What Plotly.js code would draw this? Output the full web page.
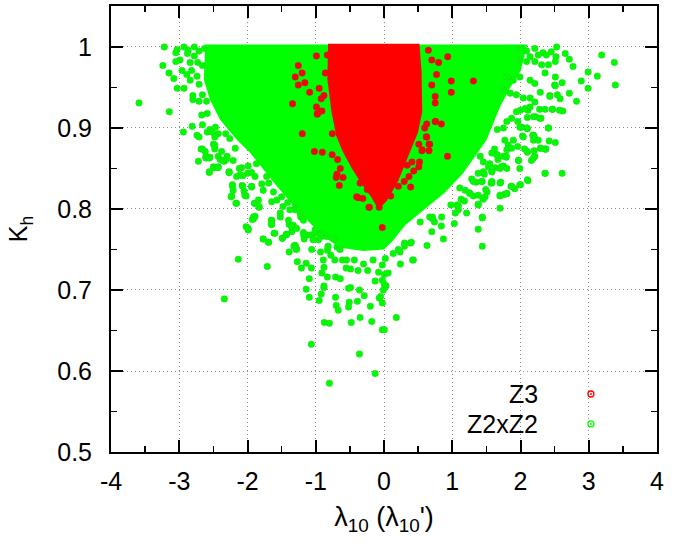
<!DOCTYPE html>
<html>
<head>
<meta charset="utf-8">
<script src="https://cdn.plot.ly/plotly-3.0.1.min.js"></script>
<style>
  html, body { margin: 0; padding: 0; background: #fff; }
  #chart { width: 673px; height: 546px; }
</style>
</head>
<body>
<div id="chart"></div>
<script>
const z22CoreX = [-2.62, 2.10, 2.0, 1.85, 1.70, 1.50, 1.16, 0.89, 0.60, 0.31, 0.12, 0.0, -0.3, -0.64, -0.89, -1.23, -1.57, -1.96, -2.15, -2.40, -2.55, -2.64, -2.62];
const z22CoreY = [1.003, 1.003, 0.97, 0.95, 0.926, 0.885, 0.844, 0.82, 0.80, 0.78, 0.76, 0.75, 0.748, 0.752, 0.766, 0.795, 0.828, 0.869, 0.885, 0.91, 0.935, 0.96, 1.003];

const z3CoreX = [-0.82, 0.52, 0.55, 0.56, 0.50, 0.40, 0.31, 0.21, 0.11, 0.04, -0.05, -0.12, -0.19, -0.32, -0.47, -0.60, -0.70, -0.77, -0.83, -0.82];
const z3CoreY = [1.004, 1.004, 0.97, 0.92, 0.895, 0.875, 0.855, 0.835, 0.82, 0.81, 0.802, 0.805, 0.815, 0.83, 0.85, 0.87, 0.89, 0.92, 0.96, 1.004];

// scattered points outside the cores
const z22X = [
  -3.59, -3.22, -3.146, -3.24, -3.15, -3.08, -3.03, -3.03, -2.93, -2.87, -2.78, -2.71, -2.63, -3.05, -2.99, -3.05,
  -2.88, -2.78, -2.73, -2.66, -2.84, -2.96, -2.89, -2.82, -2.74, -2.71, -2.93, -2.84, -2.80, -2.80, -2.71, -2.66,
  -2.60, -2.67, -2.59, -2.66, -2.94, -2.81, -2.74, -2.71, -2.68, -2.72, -2.61, -2.56, -2.62, -2.55, -2.55, -2.47,
  -2.43, -2.50, -2.48, -2.43, -2.34, -2.30, -2.50, -2.43, -2.27, -2.27, -2.16, -2.085, -1.99, -1.87, -1.89, -1.79,
  -1.72, -1.62, -1.50, -1.41, -1.30, -1.22, -2.22, -2.23, -2.16, -2.08, -2.05, -2.02, -1.94, -1.90, -1.83, -1.91,
  -2.02, -1.99, -1.89, -1.93, -1.77, -1.69, -1.65, -1.65, -1.61, -1.52, -1.49, -1.43, -1.39, -1.35, -1.33, -1.35,
  -1.30, -1.39, -1.31, -1.285, -1.27, -1.21, -1.14, -1.065, -1.095, -1.14, -1.095, -1.065, -1.18, -1.13, -1.17, -1.06,
  -1.05, -0.98, -0.82, -0.69, -2.34, -2.135, -1.71, -0.95, -0.92, -0.875, -0.80, -0.80, -0.71, -0.70, -0.67, -0.71,
  -0.64, -0.83, -0.88, -0.88, -0.91, -0.88, -0.52, -0.51, -0.48, -0.49, -0.39, -0.36, -0.36, -0.29, -0.35, -0.20,
  -0.18, -0.13, -0.07, -0.05, -0.025, -0.025, 0.005, -0.01, 0.03, 0.005, -0.025, -0.13, 0.005, 0.06, 0.18, 0.24,
  0.42, 0.43, -0.38, -0.52, -0.49, -0.555, -0.24, -0.08, -0.435, -0.30, -0.16, -0.025, 0.02, 0.135, 0.30, 0.39,
  0.235, 0.21, -0.61, -0.55, -0.645, -0.72, -0.78, -0.83, -0.89, -0.93, -0.92,
  -2.66, -2.59, -2.52, -2.48, -2.48, -2.61, -2.56, -2.49, -2.43, -2.56, -2.38, -2.40, -2.37, -2.31, -2.21, -2.27,
  -2.32, -2.26, -2.18, -2.12, -2.11, -2.07, -2.22, -2.21, -2.24, -2.17, -2.07, -2.04, -2.00, -1.94, -1.94, -1.89,
  -1.83, -1.915, -1.99, -1.84, -1.77, -1.69, -1.645, -1.57, -1.52, -1.645, -1.645, -1.60, -1.77, -1.695, -1.49, -1.43,
  -1.40, -1.48, -1.38, -1.30, -1.35, -1.28, -1.32, -1.28, -1.18, -1.08, -1.04, -0.96, -1.18, -1.23, -1.01, -0.84,
  -0.82, -0.72, -0.91,
  3.19, 3.375, 3.39, 2.99, 3.125, 2.99, 2.89, 2.77, 2.715, 2.656, 2.53, 2.715, 2.82, 2.61, 2.50, 2.62,
  2.57, 2.466, 2.58, 2.43, 2.51, 2.42, 2.36, 2.61, 2.41, 2.30, 2.22, 2.28, 2.11, 2.095, 2.18, 2.22,
  2.37, 2.29, 2.20, 2.21, 2.16, 1.97, 2.11, 2.00, 1.915, 1.86, 1.80, 1.76, 1.70, 1.49, 1.38, 1.45,
  1.58, 1.71, 1.63, 1.75, 1.79, 1.66, 1.44, 1.38, 1.21, 1.07, 1.09, 1.03, 0.98, 0.87, 0.84, 0.74,
  0.71, 0.63, 0.70, 0.40, 0.30, 0.53, 1.70, 1.57, 1.51, 1.455, 1.045, 1.44, 1.18, 1.13, 1.25, 1.31,
  1.35, 1.285, 1.44, 1.47, 1.72, 2.10, 1.96, 2.06, 1.79, 1.62, 1.67, 1.55, 1.58, 2.36, 2.03, 2.10,
  2.02, 2.19, 0.67, 0.71, 0.845, 1.09, 1.38, 1.44,
  1.99, 2.09, 2.21, 2.33, 2.45, 2.52, 2.14, 2.26, 2.38, 2.51, 1.99, 2.09, 2.21, 2.31, 2.41, 1.80,
  1.895, 1.99, 2.14, 2.21, 2.36, 2.51, 2.51, 2.29, 2.43, 2.54, 1.75, 1.85, 1.94, 2.04, 2.14, 2.21,
  2.36, 2.47, 1.94, 2.00, 2.07, 2.14, 1.80, 1.87, 1.96, 2.10, 2.19, 2.28, 1.66, 1.75, 1.99, 2.09,
  2.41, 2.19, 2.19, 2.26, 2.04, 1.895, 1.77, 1.82, 2.10, 2.30, 2.37, 2.19, 2.36, 1.97, 1.99, 1.58,
  1.65, 1.75, 1.80, 1.87, 1.41, 1.455, 1.53, 1.58, 1.70, 1.80, 1.38, 1.455, 1.31, 1.43, 1.58, 1.70,
  1.87, 1.99, 2.10, 1.26, 1.38, 1.48, 1.70, 1.80, 1.11, 1.19
];
const z22Y = [
  0.931, 1.0, 0.920, 0.977, 0.968, 0.961, 0.949, 0.997, 1.0, 0.996, 1.0, 0.995, 0.998, 0.993, 0.984, 0.982,
  0.992, 0.989, 0.981, 0.977, 0.981, 0.971, 0.966, 0.971, 0.964, 0.954, 0.949, 0.959, 0.940, 0.935, 0.933, 0.941,
  0.933, 0.916, 0.918, 0.904, 0.895, 0.902, 0.891, 0.889, 0.874, 0.859, 0.863, 0.845, 0.871, 0.864, 0.898, 0.901,
  0.893, 0.880, 0.874, 0.865, 0.859, 0.865, 0.852, 0.852, 0.846, 0.845, 0.840, 0.851, 0.853, 0.856, 0.840, 0.831,
  0.840, 0.821, 0.815, 0.808, 0.799, 0.790, 0.830, 0.816, 0.807, 0.829, 0.822, 0.816, 0.827, 0.807, 0.802, 0.788,
  0.778, 0.774, 0.791, 0.787, 0.763, 0.759, 0.786, 0.781, 0.770, 0.790, 0.764, 0.769, 0.781, 0.772, 0.780, 0.778,
  0.755, 0.747, 0.755, 0.750, 0.735, 0.727, 0.733, 0.727, 0.714, 0.701, 0.691, 0.633, 0.771, 0.768, 0.763, 0.750,
  0.768, 0.770, 0.754, 0.753, 0.689, 0.738, 0.729, 0.687, 0.695, 0.660, 0.659, 0.585, 0.691, 0.681, 0.675, 0.716,
  0.714, 0.716, 0.703, 0.705, 0.721, 0.728, 0.679, 0.685, 0.660, 0.703, 0.686, 0.700, 0.621, 0.693, 0.666, 0.680,
  0.661, 0.597, 0.690, 0.692, 0.684, 0.651, 0.651, 0.700, 0.705, 0.707, 0.712, 0.711, 0.719, 0.721, 0.666, 0.732,
  0.737, 0.737, 0.724, 0.702, 0.726, 0.727, 0.724, 0.722, 0.737, 0.732, 0.737, 0.731, 0.739, 0.745, 0.758, 0.758,
  0.747, 0.750, 0.737, 0.737, 0.750, 0.737, 0.743, 0.749, 0.737, 0.747, 0.766,
  0.874, 0.895, 0.895, 0.889, 0.879, 0.865, 0.863, 0.851, 0.851, 0.846, 0.871, 0.861, 0.860, 0.861, 0.860, 0.845,
  0.893, 0.887, 0.875, 0.850, 0.842, 0.841, 0.828, 0.823, 0.815, 0.807, 0.828, 0.817, 0.844, 0.828, 0.845, 0.807,
  0.803, 0.790, 0.776, 0.811, 0.823, 0.832, 0.809, 0.811, 0.795, 0.786, 0.781, 0.770, 0.763, 0.759, 0.764, 0.768,
  0.786, 0.803, 0.799, 0.805, 0.778, 0.776, 0.754, 0.751, 0.768, 0.768, 0.762, 0.762, 0.786, 0.795, 0.774, 0.766,
  0.753, 0.764, 0.770,
  0.990, 0.981, 0.953, 0.969, 0.964, 0.949, 0.958, 0.976, 0.985, 0.992, 1.0, 0.943, 0.933, 0.956, 0.953, 0.921,
  0.922, 0.923, 0.936, 0.940, 0.882, 0.884, 0.844, 0.844, 0.900, 0.912, 0.914, 0.923, 0.922, 0.900, 0.891, 0.886,
  0.874, 0.875, 0.872, 0.865, 0.860, 0.860, 0.835, 0.830, 0.825, 0.828, 0.819, 0.818, 0.801, 0.824, 0.806, 0.813,
  0.832, 0.833, 0.851, 0.853, 0.865, 0.867, 0.789, 0.775, 0.795, 0.805, 0.799, 0.782, 0.805, 0.763, 0.779, 0.784,
  0.788, 0.755, 0.772, 0.759, 0.754, 0.784, 0.816, 0.832, 0.821, 0.812, 0.795, 0.754, 0.810, 0.812, 0.820, 0.816,
  0.833, 0.837, 0.834, 0.843, 0.852, 0.870, 0.877, 0.874, 0.864, 0.874, 0.861, 0.856, 0.846, 0.874, 0.890, 0.899,
  0.901, 0.891, 0.790, 0.790, 0.790, 0.804, 0.805, 0.790,
  0.998, 0.995, 0.998, 0.993, 0.994, 0.988, 0.988, 0.990, 0.990, 0.982, 0.984, 0.982, 0.982, 0.978, 0.978, 0.963,
  0.959, 0.963, 0.959, 0.955, 0.968, 0.963, 0.952, 0.944, 0.939, 0.941, 0.947, 0.943, 0.941, 0.937, 0.937, 0.932,
  0.923, 0.923, 0.920, 0.922, 0.924, 0.926, 0.908, 0.912, 0.908, 0.913, 0.914, 0.912, 0.898, 0.900, 0.901, 0.900,
  0.900, 0.891, 0.885, 0.885, 0.889, 0.885, 0.885, 0.879, 0.871, 0.875, 0.874, 0.863, 0.844, 0.860, 0.850, 0.869,
  0.867, 0.865, 0.873, 0.875, 0.865, 0.858, 0.852, 0.846, 0.850, 0.850, 0.844, 0.846, 0.834, 0.834, 0.834, 0.832,
  0.828, 0.830, 0.836, 0.819, 0.817, 0.815, 0.817, 0.819, 0.826, 0.823
];

const z3X = [
  -1.197, -1.02, -0.904, -0.757, -0.977, -0.91, -0.76, -0.68, -0.64, -0.70, -0.60, -0.655, -0.35, -0.245, -0.377, -0.31,
  -0.215, -0.07, -0.025, 0.098, 0.078, 0.21, 0.297, 0.39, 0.366, 0.435, 0.51, 0.52, 0.41, 0.556, 0.66, 0.66,
  0.51, 0.62, 0.596, 0.626, 0.75, 0.84, 0.93, 0.34, 0.933, 0.986, 0.986, 1.31, 0.80, 0.70, 0.65, 0.77,
  0.70, 0.75, 0.75, 0.757, 0.626, 0.67, 0.56, -1.256, -1.20, -1.30, -1.256, -1.16, -1.09, -1.34, -0.99, -0.95,
  -0.92, -0.99, -0.977, -0.69, -0.40, -0.22, -0.86, -0.83, -0.88
];
const z3Y = [
  0.893, 0.871, 0.870, 0.893, 0.917, 0.921, 0.867, 0.861, 0.850, 0.839, 0.839, 0.829, 0.832, 0.824, 0.814, 0.813,
  0.802, 0.802, 0.777, 0.816, 0.825, 0.828, 0.834, 0.827, 0.840, 0.847, 0.852, 0.858, 0.858, 0.872, 0.872, 0.880,
  0.880, 0.889, 0.900, 0.905, 0.908, 0.905, 0.865, 0.854, 0.988, 0.958, 0.944, 0.958, 0.981, 0.984, 0.996, 0.966,
  0.953, 0.939, 0.931, 0.908, 0.889, 0.880, 0.873, 0.977, 0.968, 0.963, 0.953, 0.956, 0.944, 0.930, 0.989, 0.949,
  0.936, 0.926, 0.918, 0.843, 0.815, 0.802, 0.968, 0.990, 0.940
];

const xTicks = [-4, -3, -2, -1, 0, 1, 2, 3, 4];
const xTickText = ['-4', '-3', '-2', '-1', '0', '1', '2', '3', '4'];
const yTicks = [0.5, 0.6, 0.7, 0.8, 0.9, 1.0];
const yTickText = ['0.5', '0.6', '0.7', '0.8', '0.9', '1'];
const seriesNames = ['Z3', 'Z2xZ2'];

const green = '#00ff00';
const red = '#ff0000';
const font = 'Liberation Sans, Arial, sans-serif';

function pointMarker(col, edge) {
  return { symbol: 'circle-x', size: 6.5, color: col, line: { color: edge, width: 0.5 } };
}

const data = [
  { x: z22CoreX, y: z22CoreY, type: 'scatter', mode: 'lines', fill: 'toself',
    fillcolor: green, line: { width: 0 }, hoverinfo: 'skip' },
  { x: z22X, y: z22Y, type: 'scatter', mode: 'markers', name: seriesNames[1],
    marker: pointMarker(green, '#18d818') },
  { x: z3CoreX, y: z3CoreY, type: 'scatter', mode: 'lines', fill: 'toself',
    fillcolor: red, line: { width: 0 }, hoverinfo: 'skip' },
  { x: z3X, y: z3Y, type: 'scatter', mode: 'markers', name: seriesNames[0],
    marker: pointMarker(red, '#b82222') }
];

const axisBase = {
  showline: true, linecolor: '#000', linewidth: 2, mirror: 'allticks',
  ticks: 'inside', ticklen: 12, tickwidth: 2, tickcolor: '#000',
  showgrid: true, gridcolor: '#8c8c8c', griddash: '1px,3px', gridwidth: 1,
  zeroline: false, tickfont: { family: font, size: 25, color: '#000' }
};

// legend drawn by hand: text on the left, symbol on the right
const legendRows = [0.130, 0.063];
const annotations = seriesNames.map((n, i) => ({
  xref: 'paper', yref: 'paper', x: 0.786, y: legendRows[i], xanchor: 'right', yanchor: 'middle',
  text: n, showarrow: false, font: { family: font, size: 25, color: '#000' }
}));
const legendColors = [red, green];
const shapes = [];
legendColors.forEach((c, i) => {
  shapes.push({ type: 'circle', xref: 'paper', yref: 'paper', xsizemode: 'pixel', ysizemode: 'pixel',
    xanchor: 0.879, yanchor: legendRows[i], x0: -3, x1: 3, y0: -3, y1: 3,
    line: { color: c, width: 1.3 }, fillcolor: 'rgba(0,0,0,0)' });
  shapes.push({ type: 'circle', xref: 'paper', yref: 'paper', xsizemode: 'pixel', ysizemode: 'pixel',
    xanchor: 0.879, yanchor: legendRows[i], x0: -0.8, x1: 0.8, y0: -0.8, y1: 0.8,
    line: { color: c, width: 0.6 }, fillcolor: c });
});

const layout = {
  width: 673, height: 546,
  margin: { l: 111, r: 16, t: 6, b: 94 },
  paper_bgcolor: '#fff', plot_bgcolor: '#fff',
  showlegend: false,
  xaxis: Object.assign({}, axisBase, {
    range: [-4, 4], tickvals: xTicks, ticktext: xTickText, ticklabelstandoff: 6,
    minor: { tick0: -4, dtick: 0.5, ticks: 'inside', ticklen: 6, tickwidth: 1.5, tickcolor: '#000', showgrid: false },
    title: { text: 'λ<sub>10</sub> (λ<sub>10</sub>\')', standoff: 13,
      font: { family: font, size: 27, color: '#000' } }
  }),
  yaxis: Object.assign({}, axisBase, {
    range: [0.5, 1.0506], tickvals: yTicks, ticktext: yTickText, ticklabelstandoff: 12,
    minor: { tick0: 0.5, dtick: 0.05, ticks: 'inside', ticklen: 6, tickwidth: 1.5, tickcolor: '#000', showgrid: false },
    title: { text: 'K<sub>h</sub>', standoff: 22,
      font: { family: font, size: 25, color: '#000' } }
  }),
  annotations: annotations,
  shapes: shapes
};

Plotly.newPlot('chart', data, layout, { displayModeBar: false, staticPlot: true });
</script>
</body>
</html>
